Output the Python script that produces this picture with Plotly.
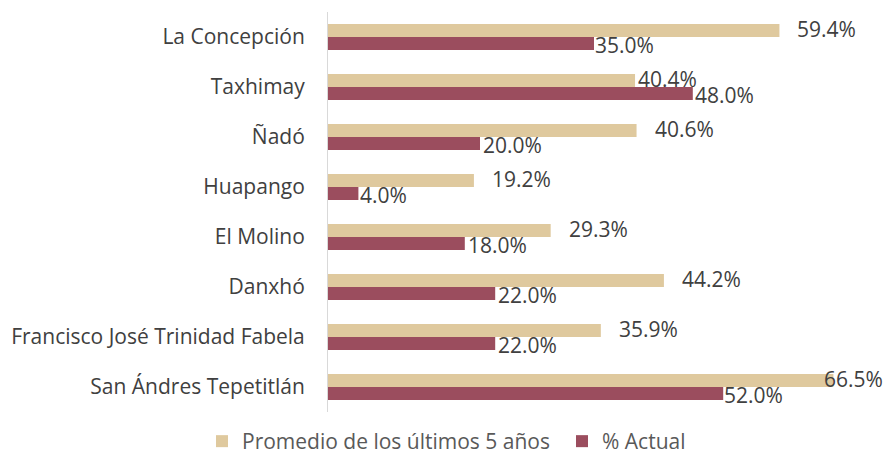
import plotly.graph_objects as go

# Communities, listed top to bottom
categorias = [
    "La Concepción",
    "Taxhimay",
    "Ñadó",
    "Huapango",
    "El Molino",
    "Danxhó",
    "Francisco José Trinidad Fabela",
    "San Ándres Tepetitlán",
]
promedio_5_anios = [59.4, 40.4, 40.6, 19.2, 29.3, 44.2, 35.9, 66.5]
actual = [35.0, 48.0, 20.0, 4.0, 18.0, 22.0, 22.0, 52.0]

# horizontal pixel nudges for the value labels
desplaz_promedio = [16, 1, 16, 16, 16, 16, 16, -11]
desplaz_actual = [-1, 0, 1, 0, 1, 1, 1, -1]

COLOR_PROM = "#DFC99E"
COLOR_ACT = "#9B4D5E"
FUENTE = "Open Sans"
GRIS = "#404040"
TAM = 21

fig = go.Figure()
fig.add_trace(go.Bar(
    y=categorias, x=promedio_5_anios, orientation="h",
    name="Promedio de los últimos 5 años",
    marker=dict(color=COLOR_PROM, line=dict(width=0)),
    legend="legend", showlegend=True,
))
fig.add_trace(go.Bar(
    y=categorias, x=actual, orientation="h",
    name="% Actual",
    marker=dict(color=COLOR_ACT, line=dict(width=0)),
    legend="legend2", showlegend=True,
))

anotaciones = []
for cat, v, dx in zip(categorias, promedio_5_anios, desplaz_promedio):
    anotaciones.append(dict(
        x=v, y=cat, xref="x", yref="y", text=f"{v:.1f}%", showarrow=False,
        xanchor="left", yanchor="middle", xshift=dx, yshift=8,
        font=dict(family=FUENTE, size=TAM, color=GRIS),
    ))
for cat, v, dx in zip(categorias, actual, desplaz_actual):
    anotaciones.append(dict(
        x=v, y=cat, xref="x", yref="y", text=f"{v:.1f}%", showarrow=False,
        xanchor="left", yanchor="middle", xshift=dx, yshift=-8,
        font=dict(family=FUENTE, size=TAM, color=GRIS),
    ))

leyenda_base = dict(
    orientation="h", xanchor="left",
    xref="container", yref="container", y=(472 - 421) / 472, yanchor="top",
    font=dict(family=FUENTE, size=TAM, color="#595959"),
    itemwidth=30, tracegroupgap=0, bgcolor="rgba(0,0,0,0)",
)

fig.update_layout(
    width=883, height=472,
    showlegend=True,
    margin=dict(l=328, r=23, t=12, b=60, autoexpand=False),
    paper_bgcolor="white", plot_bgcolor="white",
    barmode="group", bargap=0.48, bargroupgap=0,
    font=dict(family=FUENTE, size=TAM, color=GRIS),
    annotations=anotaciones,
    legend=dict(leyenda_base, x=202 / 883),
    legend2=dict(leyenda_base, x=562 / 883),
    xaxis=dict(
        range=[0, 70], showgrid=False, zeroline=False,
        showticklabels=False, showline=False, ticks="",
        automargin=False,
    ),
    yaxis=dict(
        autorange="reversed", showgrid=False, zeroline=False,
        showline=True, linecolor="#D9D9D9", linewidth=1,
        ticks="", ticklabelstandoff=18, automargin=False,
        tickfont=dict(family=FUENTE, size=TAM, color="#404040"),
    ),
)

fig.write_html("out.html")
